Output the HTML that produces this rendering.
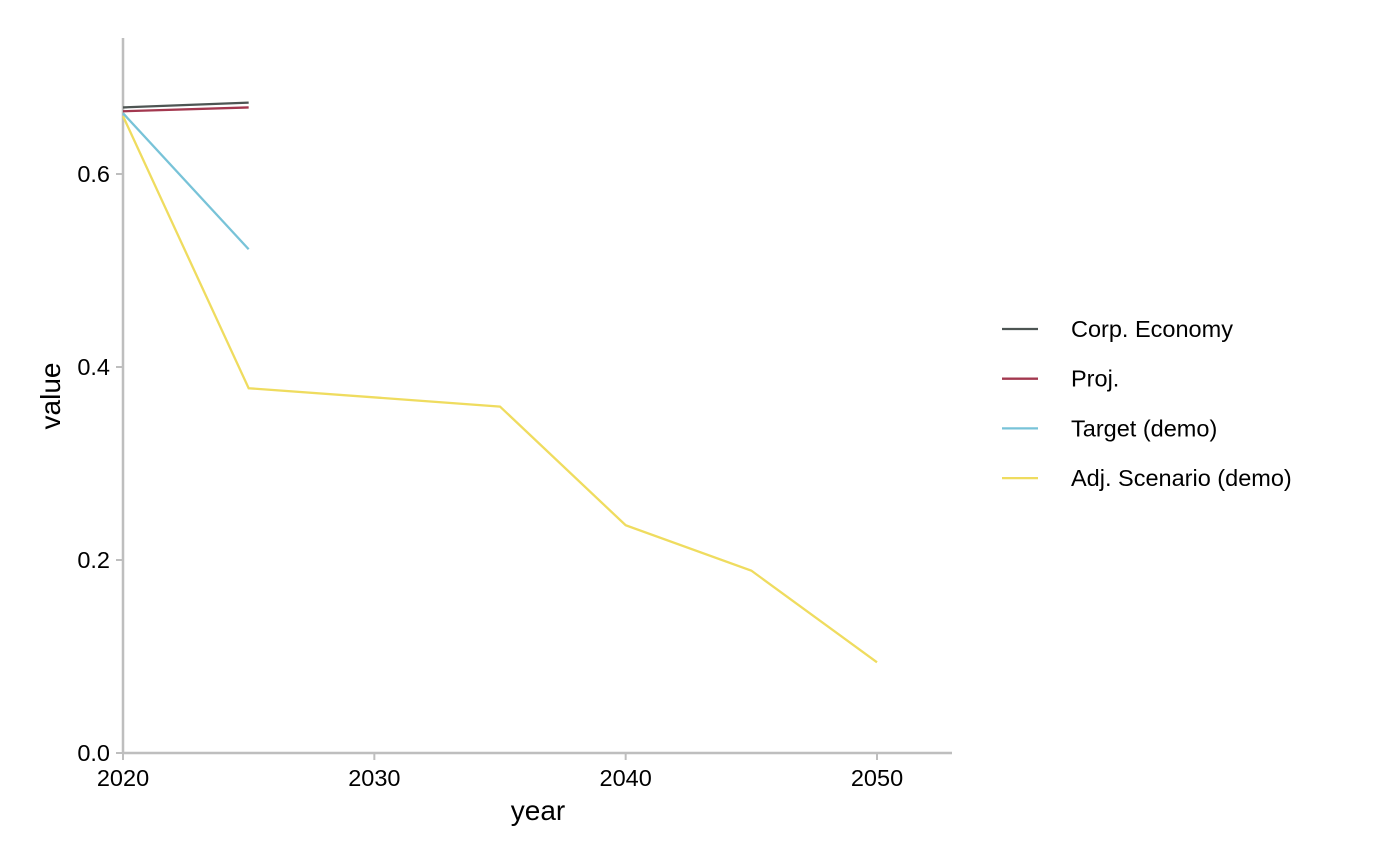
<!DOCTYPE html>
<html><head><meta charset="utf-8"><style>
body{margin:0;background:#fff}
svg{display:block;font-family:"Liberation Sans",sans-serif}
</style></head><body>
<svg id="chart" width="1400" height="865">
<g id="axes"></g><g id="series"></g><g id="legend"></g>
</svg>
<script>
const xTicks=[2020,2030,2040,2050];
const yTicks=[0,0.2,0.4,0.6];
const yTickLabels=["0.0","0.2","0.4","0.6"];
const seriesNames=["Corp. Economy","Proj.","Target (demo)","Adj. Scenario (demo)"];
const seriesColors=["#4d5553","#a3384f","#78c3d8","#efdc5f"];
const corpYears=[2020,2025];
const corpValues=[0.669,0.674];
const projYears=[2020,2025];
const projValues=[0.665,0.669];
const targetYears=[2020,2025];
const targetValues=[0.663,0.522];
const adjYears=[2020,2025,2035,2040,2045,2050];
const adjValues=[0.660,0.378,0.359,0.236,0.189,0.094];

const NS="http://www.w3.org/2000/svg";
const xs=v=>123+(v-2020)*(754/30);
const ys=v=>753-v*965;
function mk(tag,attrs,parent){const e=document.createElementNS(NS,tag);for(const k in attrs)e.setAttribute(k,attrs[k]);parent.appendChild(e);return e;}
const axes=document.getElementById('axes');
let el=mk('line',{x1:123,y1:38,x2:123,y2:754,stroke:'#bebebe','stroke-width':2.5},axes);


el=mk('line',{x1:122,y1:753,x2:952,y2:753,stroke:'#bebebe','stroke-width':2.5},axes);


xTicks.forEach(t=>{
 mk('line',{x1:xs(t),y1:753,x2:xs(t),y2:760,stroke:'#bebebe','stroke-width':2},axes);
 const tx=mk('text',{x:xs(t),y:786,'text-anchor':'middle','font-size':23.5,fill:'#000'},axes);
 tx.textContent=t;
 
 
});
yTicks.forEach((t,i)=>{
 mk('line',{x1:116,y1:ys(t),x2:123,y2:ys(t),stroke:'#bebebe','stroke-width':2},axes);
 const tx=mk('text',{x:110,y:ys(t)+8,'text-anchor':'end','font-size':23.5,fill:'#000'},axes);
 tx.textContent=yTickLabels[i];
 
 
});
el=mk('text',{x:538,y:820,'text-anchor':'middle','font-size':28,fill:'#000'},axes);
el.textContent='year';


el=mk('text',{x:60,y:396,'text-anchor':'middle','font-size':28,fill:'#000',transform:'rotate(-90 60 396)'},axes);
el.textContent='value';



const sg=document.getElementById('series');
const all=[[corpYears,corpValues],[projYears,projValues],[targetYears,targetValues],[adjYears,adjValues]];
[3,2,1,0].forEach(i=>{
 const [xsv,vs]=all[i];
 const p=mk('polyline',{points:xsv.map((x,j)=>xs(x)+','+ys(vs[j])).join(' '),fill:'none',stroke:seriesColors[i],'stroke-width':2.3},sg);
 
 
});
const lg=document.getElementById('legend');
seriesNames.forEach((n,i)=>{
 const y=329+i*49.7;
 const g=mk('g',{},lg);
 
 
 mk('line',{x1:1002,y1:y,x2:1038,y2:y,stroke:seriesColors[i],'stroke-width':2.3},g);
 const t=mk('text',{x:1071,y:y+8,'font-size':23.5,fill:'#000'},g);
 t.textContent=n;
});
</script>
</body></html>
